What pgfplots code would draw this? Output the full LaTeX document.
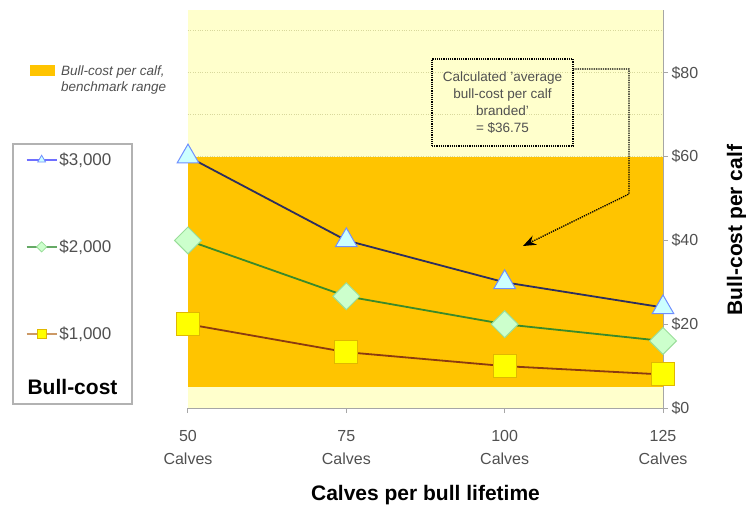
\documentclass[border=0pt]{standalone}
\usepackage{pgfplots}
\pgfplotsset{compat=1.18}
\usepackage{fontspec}
\setmainfont{Liberation Sans}
\usetikzlibrary{arrows.meta}
\definecolor{bgyellow}{HTML}{FFFFCC}
\definecolor{bandorange}{HTML}{FFC400}
\definecolor{gridcol}{HTML}{D8D89C}
\definecolor{lineA}{HTML}{2E2E5E}
\definecolor{lineB}{HTML}{3A8A2A}
\definecolor{lineC}{HTML}{8B3A10}
\definecolor{legA}{HTML}{6F6FFF}
\definecolor{legB}{HTML}{66AA66}
\definecolor{legC}{HTML}{CC9966}
\definecolor{triF}{HTML}{CCFFFF}
\definecolor{triD}{HTML}{6F8FFF}
\definecolor{diaF}{HTML}{CCFFCC}
\definecolor{diaD}{HTML}{99DD99}
\definecolor{sqF}{HTML}{FFFF00}
\definecolor{sqD}{HTML}{E0B800}
\definecolor{txtgray}{HTML}{505050}
\begin{document}
\begin{tikzpicture}
\useasboundingbox (-188pt,-98pt) rectangle (558pt,408pt);
\begin{axis}[
  at={(0pt,0pt)}, anchor=south west,
  scale only axis, width=475pt, height=398pt,
  xmin=50, xmax=125, ymin=0, ymax=95,
  axis x line*=bottom, axis y line*=right,
  axis line style={draw=gray!70, line width=1pt, -},
  xtick={50,75,100,125},
  xticklabels={50\\Calves,75\\Calves,100\\Calves,125\\Calves},
  x tick label style={align=center, font=\fontsize{16}{23}\selectfont, text=txtgray, yshift=-14pt},
  ytick={0,20,40,60,80},
  yticklabels={\$0,\$20,\$40,\$60,\$80},
  y tick label style={font=\fontsize{16}{20}\selectfont, text=txtgray},
  minor ytick={10,30,50,70,90},
  ymajorgrids, yminorgrids,
  major grid style={dotted, draw=gridcol, line width=1pt},
  minor grid style={dotted, draw=gridcol, line width=1pt},
  tick style={draw=gray!70, line width=1pt},
  major tick length=5pt, minor tick length=0pt,
  tick align=outside,
  axis background/.style={fill=bgyellow},
  clip mode=individual,
  xlabel={Calves per bull lifetime},
  xlabel style={font=\bfseries\fontsize{21}{24}\selectfont, at={(axis description cs:0.5,-0.218)}, anchor=center},
  ylabel={Bull-cost per calf},
  ylabel style={font=\bfseries\fontsize{21}{24}\selectfont, at={(axis description cs:1.155,0.447)}, anchor=center},
  legend style={at={(axis description cs:-0.348,0.652)}, anchor=north west, draw=none, fill=none,
    row sep=69pt, font=\fontsize{17}{20}\selectfont, text=txtgray, cells={anchor=west}},
  legend image code/.code={\draw[mark repeat=2, mark phase=2, mark size=4.5pt, line width=1.5pt]
    plot coordinates {(0pt,0pt)(15pt,0pt)(30pt,0pt)};},
]
\addplot[fill=bandorange, draw=none, forget plot] coordinates {(50,5) (125,5) (125,60) (50,60)} -- cycle;
\addplot[forget plot, color=lineA, line width=1.8pt, mark=triangle*, mark size=12.5pt,
  mark options={fill=triF, draw=triD, line width=1pt}] coordinates {(50,60)(75,40)(100,30)(125,24)};
\addplot[forget plot, color=lineB, line width=1.8pt, mark=square*, mark size=9.5pt,
  mark options={fill=diaF, draw=diaD, line width=1pt, rotate=45}] coordinates {(50,40)(75,26.67)(100,20)(125,16)};
\addplot[forget plot, color=lineC, line width=1.8pt, mark=square*, mark size=11.5pt,
  mark options={fill=sqF, draw=sqD, line width=1pt}] coordinates {(50,20)(75,13.33)(100,10)(125,8)};
\addlegendimage{color=legA, mark=triangle*, mark options={fill=triF, draw=triD, line width=0.8pt}}
\addlegendentry{\$3,000}
\addlegendimage{color=legB, mark=square*, mark options={fill=diaF, draw=diaD, line width=0.8pt, rotate=45, scale=0.8}}
\addlegendentry{\$2,000}
\addlegendimage{color=legC, mark=square*, mark options={fill=sqF, draw=sqD, line width=0.8pt}}
\addlegendentry{\$1,000}
\end{axis}
% legend box and title
\draw[gray!60, line width=1.5pt] (-175pt,4pt) rectangle (-56pt,264pt);
\node[font=\bfseries\fontsize{21}{24}\selectfont] at (-115.5pt,21pt) {Bull-cost};
% benchmark legend
\fill[bandorange] (-158pt,332pt) rectangle (-133pt,343pt);
\node[anchor=west, align=left, font=\itshape\fontsize{13.5}{16.5}\selectfont, text=txtgray, inner sep=0pt]
  at (-127pt,328pt) {Bull-cost per calf,\\benchmark range};
% annotation
\node[draw=black, densely dotted, line width=1.2pt, align=center, minimum width=141pt, minimum height=87pt,
  font=\fontsize{13.5}{17}\selectfont, text=txtgray] at (314.5pt,305.5pt)
  {Calculated 'average\\bull-cost per calf\\branded'\\= \$36.75};
\draw[densely dotted, line width=1.3pt, -{Stealth[length=13pt,width=10pt]}]
  (385pt,339pt) -- (441pt,339pt) -- (441pt,214pt) -- (335pt,162pt);
\end{tikzpicture}
\end{document}
